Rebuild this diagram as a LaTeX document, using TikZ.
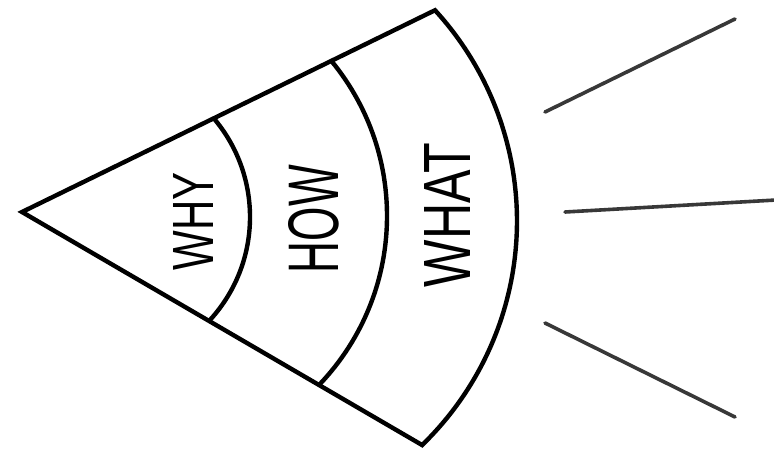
\documentclass[tikz,border=0pt]{standalone}
\usepackage{fontspec}
\usepackage{graphicx}
\setmainfont{Liberation Sans}
\begin{document}
\begin{tikzpicture}[x=1pt,y=-1pt,
  edge/.style={line width=4.4pt,line join=miter,line cap=round},
  ray/.style={line width=3.6pt,color=black!78,line cap=round},
  lbl/.style={rotate=90,inner sep=0pt}]
\useasboundingbox (0,0) rectangle (774,451);
\fill[white] (0,0) rectangle (774,451);
% inner arcs clipped to the wedge
\begin{scope}
  \clip (22,212) -- plot[domain=-42.5:45.9,samples=80] ({205+312*cos(\x)},{221+312*sin(\x)}) -- cycle;
  \draw[edge] (97.5,217) circle[radius=152.5pt];
  \draw[edge] (143,216) circle[radius=244pt];
\end{scope}
% outline
\draw[edge] (22,212) -- plot[domain=-42.5:45.9,samples=80] ({205+312*cos(\x)},{221+312*sin(\x)}) -- cycle;
% labels
\node[lbl] (why) at (193,221) {\resizebox{98pt}{40pt}{WHY}};
\node[lbl] (how) at (314,219) {\resizebox{108pt}{50pt}{HOW}};
\node[lbl] (what) at (447,215) {\resizebox{144pt}{46pt}{WHAT}};
% rays
\coordinate (r1a) at (545,112); \coordinate (r1b) at (735,19);
\coordinate (r2a) at (565,212); \coordinate (r2b) at (776,200);
\coordinate (r3a) at (545,323); \coordinate (r3b) at (735,417);
\draw[ray] (r1a) -- (r1b);
\draw[ray] (r2a) -- (r2b);
\draw[ray] (r3a) -- (r3b);
\end{tikzpicture}
\end{document}
